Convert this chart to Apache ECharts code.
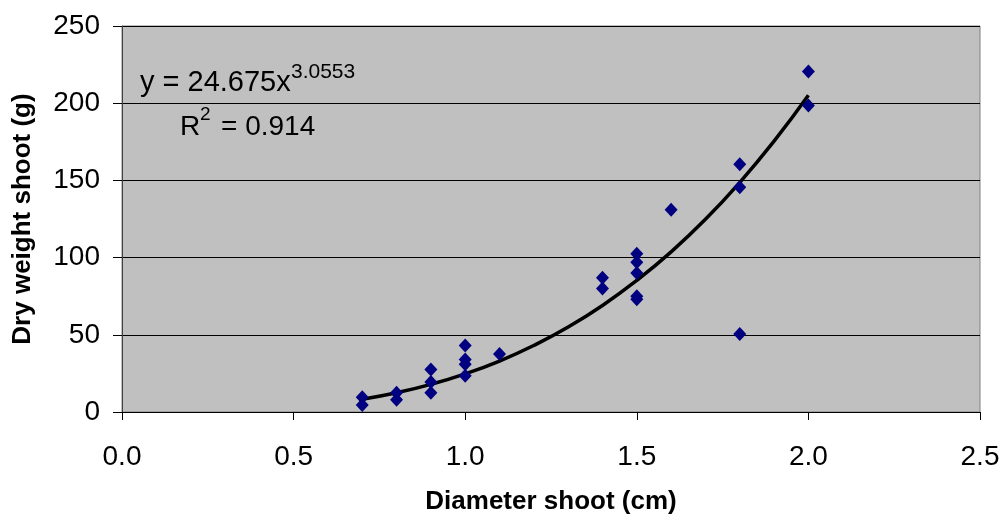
<!DOCTYPE html>
<html><head><meta charset="utf-8">
<script src="https://cdn.jsdelivr.net/npm/echarts@6/dist/echarts.min.js"></script>
<style>html,body{margin:0;padding:0;background:#fff}#c{width:1002px;height:514px}</style>
</head><body><div id="c"></div>
<script>
// Observed points
const diameter = [0.7,0.7, 0.8,0.8, 0.9,0.9,0.9, 1.0,1.0,1.0,1.0, 1.1, 1.4,1.4, 1.5,1.5,1.5,1.5,1.5, 1.6, 1.8,1.8,1.8, 2.0,2.0];
const dryWeight = [9.5,4.5, 12.5,8, 27.5,19.5,12.5, 43,34,31,23.5, 37.5, 87,80, 102.5,97,90,75,73, 131, 160.5,145.5,50.5, 220.5,198.5];
// Trend line (power fit) values
const trendX = [0.7,0.8,0.9,1.0,1.1,1.2,1.3,1.4,1.5,1.6,1.7,1.8,1.9,2.0];
const trendY = [8.3,12.5,17.9,24.7,33.0,43.1,55.0,69.0,85.2,103.7,124.8,148.7,175.4,205.1];
const xTicks = [0.0,0.5,1.0,1.5,2.0,2.5];
const yTicks = [0,50,100,150,200,250];

const chart = echarts.init(document.getElementById('c'));
const font = 'Liberation Sans, Arial, sans-serif';
chart.setOption({
  animation: false,
  grid: {left:122, right:22, top:26, bottom:102, show:true, backgroundColor:'#C0C0C0', borderColor:'#808080', borderWidth:1,
         containLabel:false, outerBoundsMode:'none'},
  xAxis: {
    type:'value', min:xTicks[0], max:xTicks[xTicks.length-1], interval:0.5,
    name:'Diameter shoot (cm)', nameLocation:'middle', nameGap:77,
    nameTextStyle:{fontFamily:font, fontSize:26, fontWeight:'bold', color:'#000'},
    axisLine:{show:true, onZero:false, lineStyle:{color:'#000', width:1}},
    axisTick:{show:true, inside:false, length:8, lineStyle:{color:'#000'}},
    axisLabel:{margin:31, fontFamily:font, fontSize:28, color:'#000', formatter:v=>v.toFixed(1)},
    splitLine:{show:false}
  },
  yAxis: {
    type:'value', min:yTicks[0], max:yTicks[yTicks.length-1], interval:50,
    name:'Dry weight shoot (g)', nameLocation:'middle', nameGap:86, nameRotate:90,
    nameTextStyle:{fontFamily:font, fontSize:26, fontWeight:'bold', color:'#000'},
    axisLine:{show:true, lineStyle:{color:'#404040', width:1}},
    axisTick:{show:true, inside:false, length:9, lineStyle:{color:'#000'}},
    axisLabel:{margin:22, fontFamily:font, fontSize:28, color:'#000'},
    splitLine:{show:true, lineStyle:{color:'#000', width:1}}
  },
  series: [
    {type:'line', data:trendX.map((x,i)=>[x,trendY[i]]), smooth:true, symbol:'none',
     lineStyle:{color:'#000', width:3.5}, z:2},
    {type:'scatter', data:diameter.map((x,i)=>[x,dryWeight[i]]), symbol:'diamond', symbolSize:[13,14],
     itemStyle:{color:'#000080', opacity:1}, z:3}
  ],
  graphic: [
    {type:'text', x:140, y:83, style:{text:'y = 24.675x', fontFamily:font, fontSize:29, fill:'#000', textAlign:'left', textVerticalAlign:'middle'}},
    {type:'text', x:291, y:72, style:{text:'3.0553', fontFamily:font, fontSize:21, fill:'#000', textAlign:'left', textVerticalAlign:'middle'}},
    {type:'text', x:180, y:127, style:{text:'R', fontFamily:font, fontSize:28, fill:'#000', textAlign:'left', textVerticalAlign:'middle'}},
    {type:'text', x:200, y:115, style:{text:'2', fontFamily:font, fontSize:19, fill:'#000', textAlign:'left', textVerticalAlign:'middle'}},
    {type:'text', x:221, y:127, style:{text:'= 0.914', fontFamily:font, fontSize:28, fill:'#000', textAlign:'left', textVerticalAlign:'middle'}}
  ]
});
</script></body></html>
